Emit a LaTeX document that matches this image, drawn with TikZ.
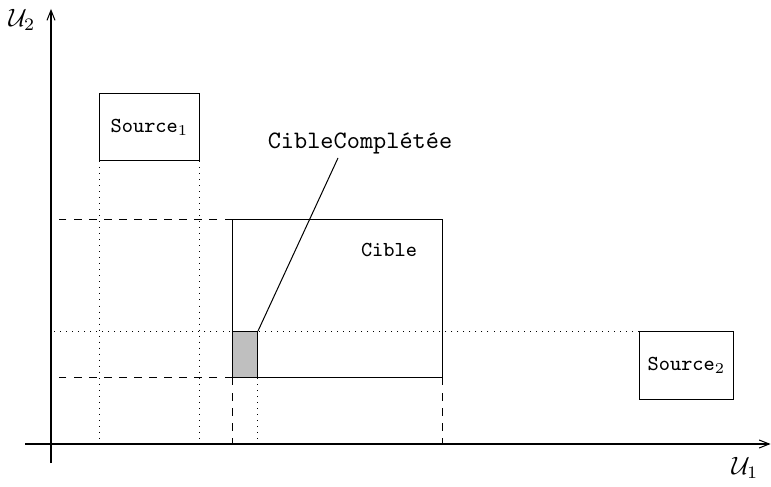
\documentclass[tikz,border=0pt]{standalone}
\usepackage{amsmath,amssymb}
\usepackage{fontspec}
\usepackage{tikz}
\usetikzlibrary{positioning,arrows,arrows.meta}

\begin{document}
\begin{tikzpicture}
            [x=0.014cm,y=0.014cm,every node/.style={inner sep=0pt, outer sep=0pt},
             boite/.style={draw, rectangle, font=\fontsize{8.5}{10}\ttfamily},
             proj/.style={dotted},
             bord/.style={dashed},
             epais/.style={line width=0.8pt},
             axe/.style={-{Straight Barb[length=4pt,width=3.2pt]}}]
            \useasboundingbox (0,0) rectangle (771,486);

            % axes
            \coordinate (xdeb) at (25,42);
            \coordinate (xfin) at (770.5,42);
            \coordinate (ydeb) at (51,23);
            \coordinate (yfin) at (51,477);
            \coordinate (o) at (51,42);
            \draw[axe] (xdeb) -- (xfin);
            \draw[axe] (ydeb) -- (yfin);
            \node (u1) at (745,18) {$\mathcal{U}_1$};
            \node (u2) at (22,466) {$\mathcal{U}_2$};

            % boites
            \node[boite, minimum width=1.414cm, minimum height=0.952cm] (s1) at (149.5,359) {Source$_1$};
            \node[boite, minimum width=1.33cm, minimum height=0.966cm] (s2) at (686.5,120.5) {Source$_2$};
            \node[draw, minimum width=2.954cm, minimum height=2.226cm] (cible) at (337.5,187.5) {};
            \node[draw, fill=gray!50, minimum width=0.364cm, minimum height=0.658cm] (gris) at (245,131.5) {};
            \node[font=\fontsize{8.5}{10}\ttfamily] (tcible) at (389,236) {Cible};
            \node[font=\ttfamily] (cc) at (360,343) {CibleComplétée};
            \coordinate (pointe) at (338,328);
            \draw (gris.north east) -- (pointe);

            % projections
            \draw[proj] (s1.south west) -- (s1.south west |- o);
            \draw[proj] (s1.south east) -- (s1.south east |- o);
            \draw[proj] (s2.north west) -- (s2.north west -| o);
            \draw[proj] (gris.south east) -- (gris.south east |- o);
            \draw[bord] (cible.north west) -- (cible.north west -| o);
            \draw[bord] (cible.south west) -- (cible.south west -| o);
            \draw[bord] (cible.south west) -- (cible.south west |- o);
            \draw[bord] (cible.south east) -- (cible.south east |- o);

            \draw[epais] (gris.south west |- o) -- (gris.south east |- o);
            \draw[epais] (gris.north west -| o) -- (gris.south west -| o);
        \end{tikzpicture}
\end{document}
